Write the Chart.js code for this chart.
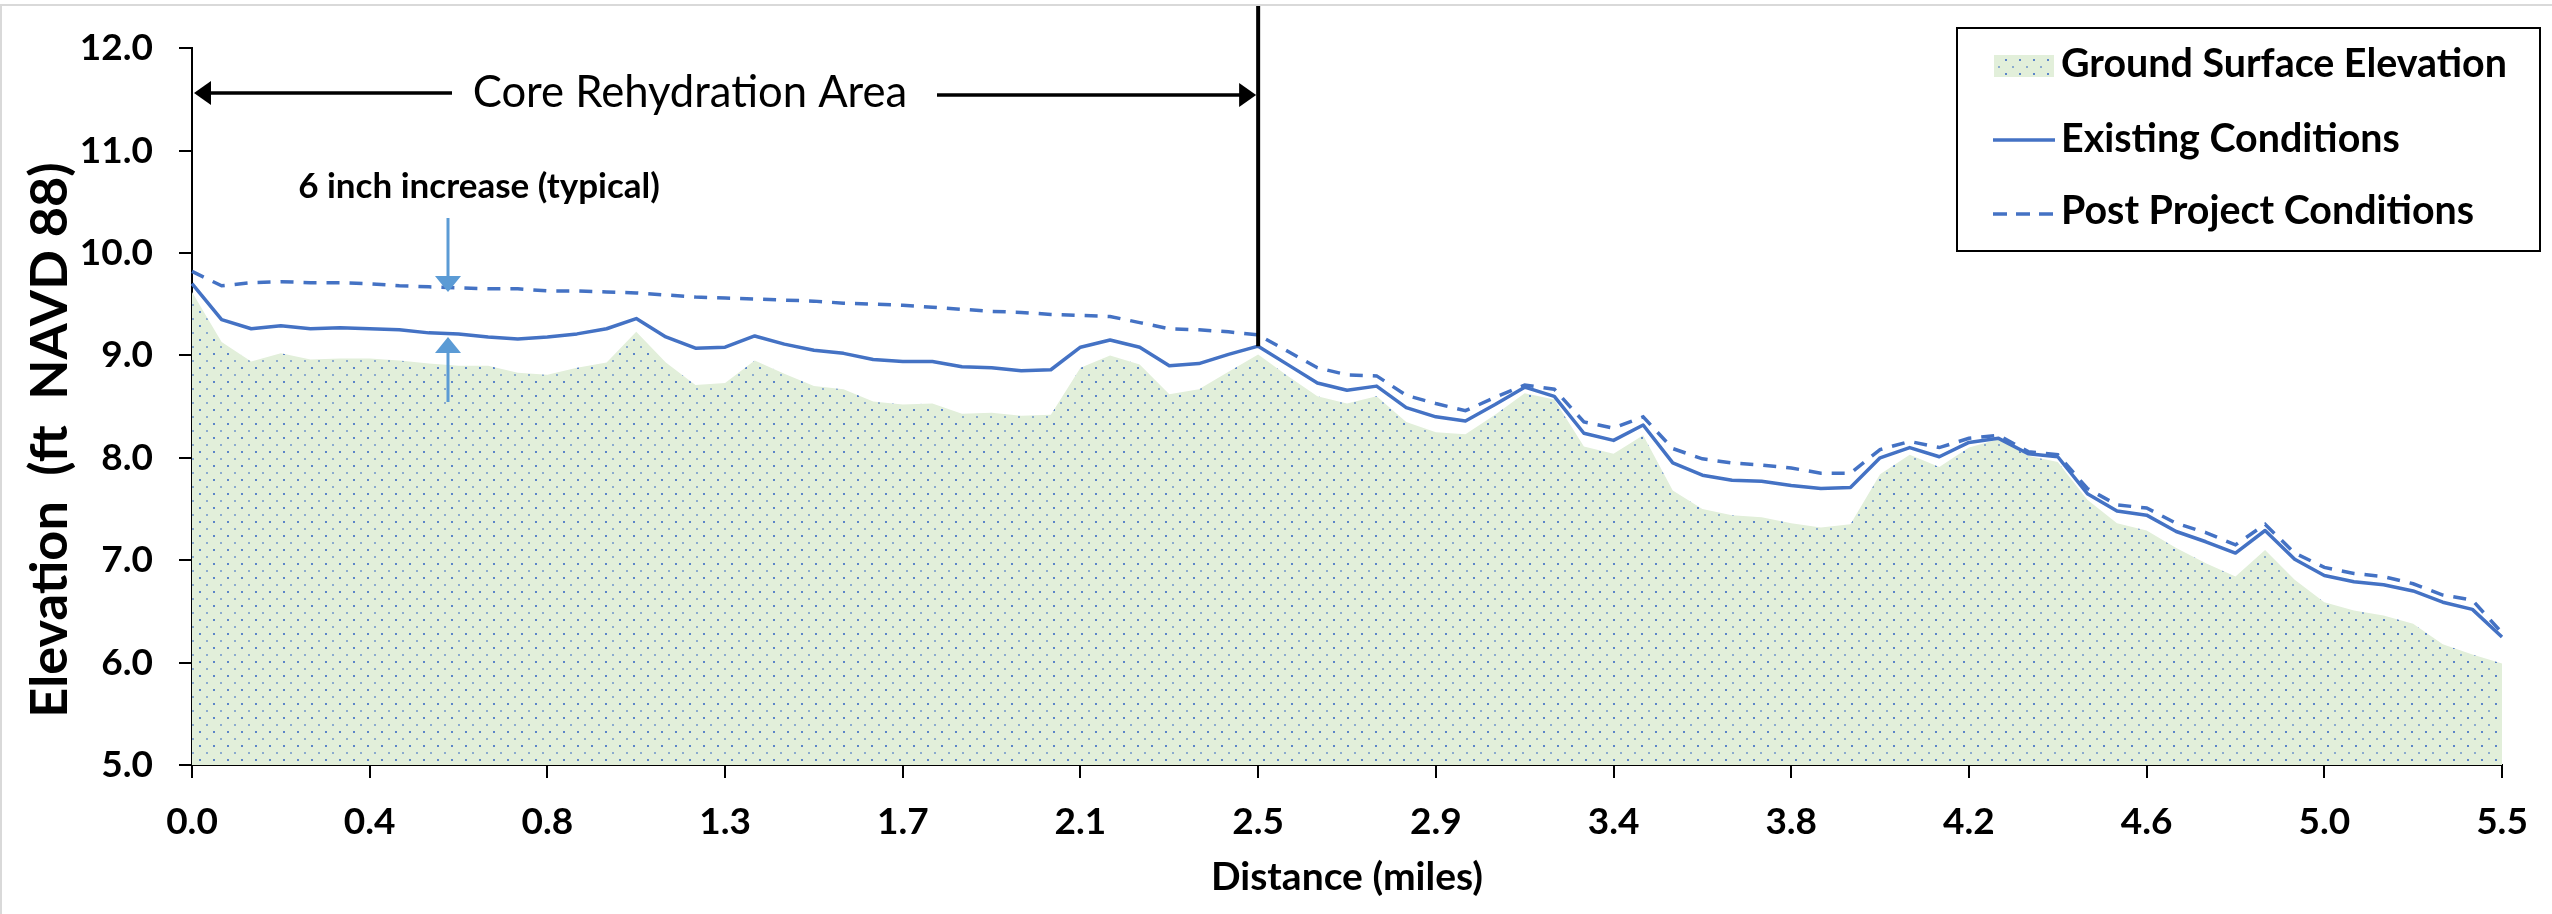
<!DOCTYPE html>
<html>
<head>
<meta charset="utf-8">
<script src="https://cdn.jsdelivr.net/npm/chart.js@4.4.1/dist/chart.umd.min.js"></script>
<style>
  html, body { margin: 0; padding: 0; background: #fff; }
  canvas { display: block; }
</style>
</head>
<body>
<canvas id="profileChart" width="2552" height="914"></canvas>
<script>
// Distance tick labels (miles), one every 6 stations
const tickLabels = ['0.0', '0.4', '0.8', '1.3', '1.7', '2.1', '2.5', '2.9', '3.4', '3.8', '4.2', '4.6', '5.0', '5.5'];
const stationsPerTick = 6;

// Elevations (ft NAVD 88) per station
const groundSurface = [
  9.62, 9.13, 8.94, 9.02, 8.96, 8.97, 8.97, 8.95, 8.92, 8.90, 8.90, 8.83, 8.81, 8.88, 8.93, 9.23,
  8.93, 8.71, 8.73, 8.95, 8.82, 8.70, 8.67, 8.55, 8.52, 8.53, 8.43, 8.44, 8.41, 8.42, 8.88, 9.00,
  8.91, 8.62, 8.67, 8.84, 9.01, 8.80, 8.60, 8.53, 8.60, 8.35, 8.25, 8.23, 8.42, 8.63, 8.57,
  8.11, 8.04, 8.22, 7.68, 7.50, 7.44, 7.42, 7.36, 7.32, 7.35, 7.84, 8.03, 7.91, 8.10, 8.18, 8.02,
  7.96, 7.59, 7.36, 7.29, 7.12, 6.97, 6.84, 7.10, 6.81, 6.59, 6.51, 6.46, 6.38, 6.18, 6.08, 5.99
];
const existingConditions = [
  9.70, 9.35, 9.26, 9.29, 9.26, 9.27, 9.26, 9.25, 9.22, 9.21, 9.18, 9.16, 9.18, 9.21, 9.26, 9.36,
  9.18, 9.07, 9.08, 9.19, 9.11, 9.05, 9.02, 8.96, 8.94, 8.94, 8.89, 8.88, 8.85, 8.86, 9.08, 9.15,
  9.08, 8.90, 8.92, 9.01, 9.09, 8.91, 8.73, 8.66, 8.70, 8.49, 8.40, 8.36, 8.52, 8.69, 8.60,
  8.24, 8.17, 8.32, 7.95, 7.83, 7.78, 7.77, 7.73, 7.70, 7.71, 8.00, 8.10, 8.01, 8.15, 8.19, 8.04,
  8.01, 7.65, 7.48, 7.44, 7.28, 7.18, 7.07, 7.29, 7.01, 6.85, 6.79, 6.76, 6.70, 6.59, 6.52, 6.25
];
const postProject = [
  9.82, 9.68, 9.71, 9.72, 9.71, 9.71, 9.70, 9.68, 9.67, 9.66, 9.65, 9.65, 9.63, 9.63, 9.62, 9.61,
  9.59, 9.57, 9.56, 9.55, 9.54, 9.53, 9.51, 9.50, 9.49, 9.47, 9.45, 9.43, 9.42, 9.40, 9.39, 9.38,
  9.32, 9.26, 9.25, 9.23, 9.20, 9.04, 8.88, 8.81, 8.80, 8.61, 8.53, 8.46, 8.59, 8.71, 8.67,
  8.35, 8.29, 8.40, 8.09, 7.99, 7.95, 7.93, 7.90, 7.85, 7.85, 8.08, 8.16, 8.10, 8.19, 8.22, 8.06,
  8.03, 7.70, 7.54, 7.51, 7.36, 7.27, 7.15, 7.35, 7.07, 6.93, 6.87, 6.84, 6.77, 6.66, 6.61, 6.29
];
const coreEndStation = 36; // end of core rehydration area (2.5 mi)

const stations = groundSurface.map((_, i) => i);
const FONT = 'Lato';
const lineBlue = '#4472c4';
const arrowBlue = '#5b9bd5';

// dotted green fill like the Excel pattern
function dotPattern() {
  const tile = document.createElement('canvas');
  tile.width = 14; tile.height = 14;
  const t = tile.getContext('2d');
  t.fillStyle = '#e2efda';
  t.fillRect(0, 0, 14, 14);
  t.fillStyle = 'rgba(68,114,196,0.85)';
  t.fillRect(3, 3, 2, 2);
  t.fillStyle = 'rgba(68,114,196,0.55)';
  t.fillRect(10, 10, 2, 2);
  return t.createPattern(tile, 'repeat');
}
const groundFill = dotPattern();

function fitFont(ctx, text, weight, width) {
  ctx.font = `${weight} 100px ${FONT}`;
  const size = 100 * width / ctx.measureText(text).width;
  return `${weight} ${size.toFixed(1)}px ${FONT}`;
}

function arrowHead(ctx, tipX, tipY, dx, dy, len, half) {
  // dx,dy: unit direction the arrow points to
  ctx.beginPath();
  ctx.moveTo(tipX, tipY);
  ctx.lineTo(tipX - dx * len - dy * half, tipY - dy * len + dx * half);
  ctx.lineTo(tipX - dx * len + dy * half, tipY - dy * len - dx * half);
  ctx.closePath();
  ctx.fill();
}

function segment(ctx, x1, y1, x2, y2) {
  ctx.beginPath();
  ctx.moveTo(x1, y1);
  ctx.lineTo(x2, y2);
  ctx.stroke();
}

const annotations = {
  id: 'annotations',
  afterDraw(chart) {
    const { ctx, chartArea, scales: { x, y } } = chart;
    ctx.save();

    // light frame of the original figure
    ctx.fillStyle = '#d9d9d9';
    ctx.fillRect(0, 4, chart.width, 2);
    ctx.fillRect(0, 4, 2, chart.height);

    // core area boundary
    const xEnd = x.getPixelForValue(coreEndStation);
    ctx.strokeStyle = '#000';
    ctx.fillStyle = '#000';
    ctx.lineWidth = 4;
    segment(ctx, xEnd, 6, xEnd, y.getPixelForValue(existingConditions[coreEndStation]));

    // Core Rehydration Area arrows + label
    ctx.lineWidth = 3.5;
    segment(ctx, 452, 93, chartArea.left + 14, 93);
    arrowHead(ctx, chartArea.left + 2, 93, -1, 0, 17, 12);
    segment(ctx, 937, 95, xEnd - 14, 95);
    arrowHead(ctx, xEnd - 2, 95, 1, 0, 17, 12);

    ctx.textAlign = 'center';
    ctx.textBaseline = 'alphabetic';
    ctx.font = fitFont(ctx, 'Core Rehydration Area', 'normal', 435);
    ctx.fillText('Core Rehydration Area', 690, 107);

    // 6 inch increase
    ctx.font = fitFont(ctx, '6 inch increase (typical)', 'bold', 362);
    ctx.fillText('6 inch increase (typical)', 479, 198);

    ctx.strokeStyle = arrowBlue;
    ctx.fillStyle = arrowBlue;
    ctx.lineWidth = 3;
    const ax = 448;
    const downTip = y.getPixelForValue(9.62);
    const upTip = y.getPixelForValue(9.18);
    segment(ctx, ax, 218, ax, downTip - 12);
    arrowHead(ctx, ax, downTip, 0, 1, 16, 13);
    segment(ctx, ax, 402, ax, upTip + 12);
    arrowHead(ctx, ax, upTip, 0, -1, 16, 13);

    // y axis title
    ctx.fillStyle = '#000';
    ctx.save();
    ctx.translate(50, 440);
    ctx.rotate(-Math.PI / 2);
    ctx.textBaseline = 'middle';
    ctx.font = fitFont(ctx, 'Elevation  (ft  NAVD 88)', 'bold', 555);
    ctx.fillText('Elevation  (ft  NAVD 88)', 0, 0);
    ctx.restore();

    // legend
    ctx.strokeStyle = '#000';
    ctx.lineWidth = 2;
    ctx.fillStyle = '#fff';
    ctx.fillRect(1957, 28, 583, 223);
    ctx.strokeRect(1957, 28, 583, 223);

    ctx.fillStyle = groundFill;
    ctx.fillRect(1994, 55, 60, 22);

    ctx.strokeStyle = lineBlue;
    ctx.lineWidth = 3.5;
    segment(ctx, 1993, 140, 2055, 140);
    ctx.setLineDash([14, 9]);
    segment(ctx, 1993, 214, 2055, 214);
    ctx.setLineDash([]);

    ctx.fillStyle = '#000';
    ctx.textAlign = 'left';
    ctx.textBaseline = 'alphabetic';
    ctx.font = fitFont(ctx, 'Ground Surface Elevation', 'bold', 446);
    ctx.fillText('Ground Surface Elevation', 2061, 77);
    ctx.fillText('Existing Conditions', 2061, 152);
    ctx.fillText('Post Project Conditions', 2061, 224);

    ctx.restore();
  }
};

const ctx = document.getElementById('profileChart').getContext('2d');
new Chart(ctx, {
  type: 'line',
  data: {
    labels: stations,
    datasets: [
      {
        label: 'Ground Surface Elevation',
        data: groundSurface,
        borderWidth: 0,
        pointRadius: 0,
        backgroundColor: groundFill,
        fill: 'start',
        order: 3
      },
      {
        label: 'Existing Conditions',
        data: existingConditions,
        borderColor: lineBlue,
        borderWidth: 3.5,
        borderJoinStyle: 'round',
        pointRadius: 0,
        fill: false,
        order: 2
      },
      {
        label: 'Post Project Conditions',
        data: postProject,
        borderColor: lineBlue,
        borderWidth: 3.5,
        borderDash: [13, 10],
        pointRadius: 0,
        fill: false,
        order: 1
      }
    ]
  },
  options: {
    responsive: false,
    animation: false,
    devicePixelRatio: 1,
    layout: { padding: { top: 44, right: 50, left: 0, bottom: 0 } },
    plugins: { legend: { display: false }, tooltip: { enabled: false } },
    scales: {
      x: {
        type: 'category',
        grid: {
          drawOnChartArea: false,
          tickLength: 13,
          lineWidth: 2,
          color: c => (c.index % stationsPerTick === 0 ? '#000' : 'rgba(0,0,0,0)')
        },
        border: { display: true, color: '#000', width: 2 },
        ticks: {
          autoSkip: false,
          maxRotation: 0,
          minRotation: 0,
          padding: 22,
          color: '#000',
          font: { family: FONT, weight: 'bold', size: 37 },
          callback: (v, i) => (i % stationsPerTick === 0 ? tickLabels[i / stationsPerTick] : '')
        },
        title: {
          display: true,
          text: 'Distance (miles)',
          color: '#000',
          font: { family: FONT, weight: 'bold', size: 39 },
          padding: { top: 0, bottom: 13 }
        },
        afterFit: s => { s.height = 149; }
      },
      y: {
        min: 5,
        max: 12,
        grid: { drawOnChartArea: false, tickLength: 13, lineWidth: 2, color: '#000' },
        border: { display: true, color: '#000', width: 2 },
        ticks: {
          stepSize: 1,
          padding: 26,
          color: '#000',
          font: { family: FONT, weight: 'bold', size: 37 },
          callback: v => v.toFixed(1)
        },
        afterFit: s => { s.width = 192; }
      }
    }
  },
  plugins: [annotations]
});
</script>
</body>
</html>
